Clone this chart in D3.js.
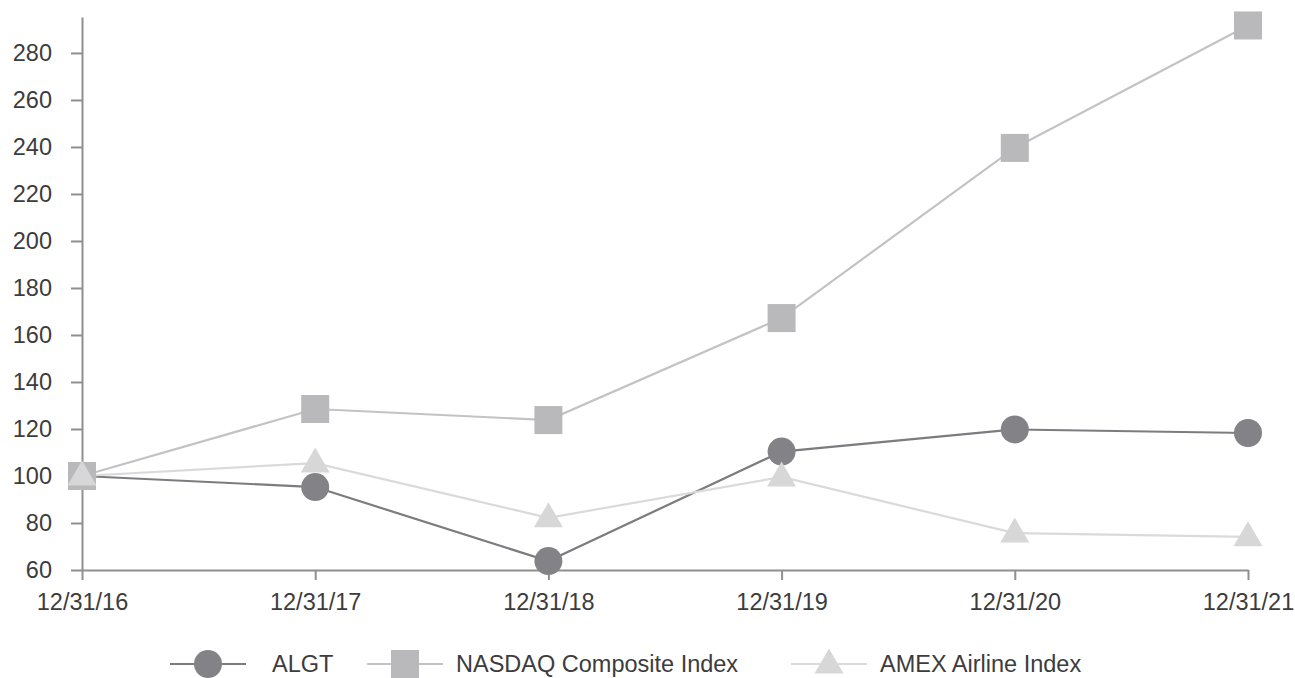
<!DOCTYPE html>
<html>
<head>
<meta charset="utf-8">
<script src="https://cdn.jsdelivr.net/npm/d3@7"></script>
<style>
  html, body { margin: 0; padding: 0; background: #fff; }
  svg { display: block; font-family: "Liberation Sans", Arial, sans-serif; }
</style>
</head>
<body>
<svg id="chart" width="1295" height="678"></svg>
<script>
// Cumulative total return, indexed to 100 at 12/31/16
const dates = ["12/31/16", "12/31/17", "12/31/18", "12/31/19", "12/31/20", "12/31/21"];
const algt = [100, 95.3, 63.8, 110.4, 119.8, 118.3];
const nasdaq = [100, 128.5, 123.8, 167.2, 239.6, 291.7];
const amex = [100, 105.5, 82.2, 99.6, 75.7, 74.1];
const yTicks = [60, 80, 100, 120, 140, 160, 180, 200, 220, 240, 260, 280];

const seriesList = [
  { name: "ALGT", values: algt, line: "#7c7c80", fill: "#838387", shape: "circle" },
  { name: "NASDAQ Composite Index", values: nasdaq, line: "#c3c3c5", fill: "#b9b9bc", shape: "square" },
  { name: "AMEX Airline Index", values: amex, line: "#dadada", fill: "#d7d7d7", shape: "triangle" }
];

const svg = d3.select("#chart");
const plotLeft = 82, plotRight = 1248, plotTop = 17, plotBottom = 570;

const x = d3.scalePoint().domain(dates).range([plotLeft, plotRight]);
const y = d3.scaleLinear().domain([60, 295.3]).range([plotBottom, plotTop]);

const axisColor = "#8f8f8f";
const textColor = "#3c3c3c";
const fontSize = 23.5;

// Y axis
const yAxis = svg.append("g").attr("transform", `translate(${plotLeft},0)`)
  .call(d3.axisLeft(y).tickValues(yTicks).tickSize(11).tickPadding(19).tickSizeOuter(0));
yAxis.select(".domain").attr("stroke", axisColor).attr("stroke-width", 2);
yAxis.selectAll(".tick line").attr("stroke", axisColor).attr("stroke-width", 2);
yAxis.selectAll(".tick text").attr("fill", textColor).attr("font-size", fontSize)
  .attr("font-family", "'Liberation Sans', Arial, sans-serif");

// X axis
const xAxis = svg.append("g").attr("transform", `translate(0,${plotBottom})`)
  .call(d3.axisBottom(x).tickSize(10).tickPadding(13).tickSizeOuter(0));
xAxis.select(".domain").attr("stroke", axisColor).attr("stroke-width", 2);
xAxis.selectAll(".tick line").attr("stroke", axisColor).attr("stroke-width", 2);
xAxis.selectAll(".tick text").attr("fill", textColor).attr("font-size", fontSize)
  .attr("font-family", "'Liberation Sans', Arial, sans-serif");

// Marker shapes
function drawMarker(g, shape, cx, cy, fill) {
  if (shape === "circle") {
    g.append("circle").attr("cx", cx).attr("cy", cy).attr("r", 14).attr("fill", fill);
  } else if (shape === "square") {
    g.append("rect").attr("x", cx - 14).attr("y", cy - 14).attr("width", 28).attr("height", 28).attr("fill", fill);
  } else {
    const h = 25, w = 29;
    g.append("path")
      .attr("d", `M${cx},${cy - h * 0.62} L${cx + w / 2},${cy + h * 0.38} L${cx - w / 2},${cy + h * 0.38} Z`)
      .attr("fill", fill);
  }
}

const line = d3.line().x((d, i) => x(dates[i])).y(d => y(d));

// Lines first, then markers
seriesList.forEach(s => {
  svg.append("path").datum(s.values)
    .attr("d", line)
    .attr("fill", "none")
    .attr("stroke", s.line)
    .attr("stroke-width", 2.2);
});
seriesList.forEach(s => {
  const g = svg.append("g");
  s.values.forEach((v, i) => drawMarker(g, s.shape, x(dates[i]), y(v), s.fill));
});

// Legend
const legendItems = [
  { s: seriesList[0], x0: 170, textX: 272 },
  { s: seriesList[1], x0: 367, textX: 456 },
  { s: seriesList[2], x0: 791, textX: 880 }
];
const ly = 664;
legendItems.forEach(item => {
  const g = svg.append("g");
  g.append("line").attr("x1", item.x0).attr("x2", item.x0 + 76)
    .attr("y1", ly).attr("y2", ly)
    .attr("stroke", item.s.line).attr("stroke-width", 2.2);
  drawMarker(g, item.s.shape, item.x0 + 38, ly, item.s.fill);
  g.append("text").attr("x", item.textX).attr("y", ly + 8)
    .attr("fill", textColor).attr("font-size", fontSize)
    .text(item.s.name);
});
</script>
</body>
</html>
